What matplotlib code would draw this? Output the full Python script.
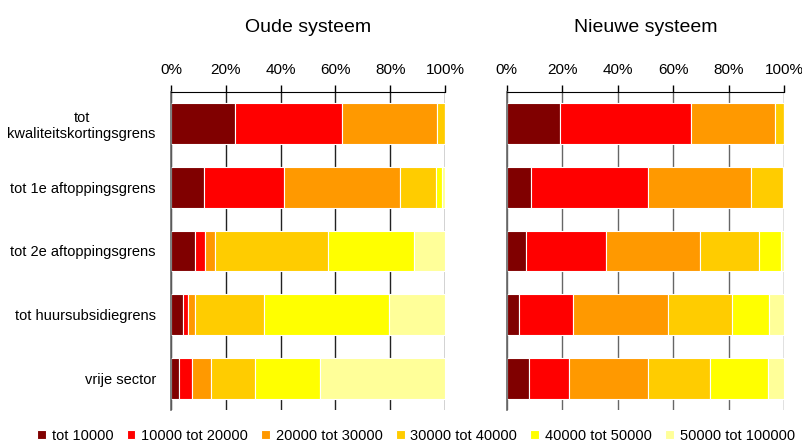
import matplotlib
matplotlib.use("Agg")
import matplotlib.pyplot as plt
import numpy as np

plt.rcParams["font.family"] = ["Liberation Sans", "DejaVu Sans"]

categories = ["tot\nkwaliteitskortingsgrens", "tot 1e aftoppingsgrens",
              "tot 2e aftoppingsgrens", "tot huursubsidiegrens", "vrije sector"]
series = ["tot 10000", "10000 tot 20000", "20000 tot 30000",
          "30000 tot 40000", "40000 tot 50000", "50000 tot 100000"]
colors = ["#800000", "#FF0000", "#FF9900", "#FFCC00", "#FFFF00", "#FFFF99"]

# share (%) per income class, rows follow categories
oud = [
    [23.2, 39.1, 34.7, 3.0, 0.0, 0.0],
    [11.9, 29.4, 42.2, 13.1, 2.3, 1.1],
    [8.7, 3.6, 3.7, 41.2, 31.6, 11.2],
    [4.5, 1.7, 2.5, 25.3, 45.5, 20.5],
    [3.0, 4.7, 6.9, 15.9, 23.7, 45.8],
]
nieuw = [
    [19.3, 47.0, 30.5, 3.2, 0.0, 0.0],
    [8.6, 42.3, 37.2, 11.3, 0.4, 0.2],
    [7.1, 28.6, 34.0, 21.1, 8.1, 1.1],
    [4.4, 19.5, 34.2, 22.9, 13.4, 5.6],
    [8.0, 14.4, 28.5, 22.4, 20.8, 5.9],
]
titles = ["Oude systeem", "Nieuwe systeem"]
ticks = [0, 20, 40, 60, 80, 100]
tick_labels = ["0%", "20%", "40%", "60%", "80%", "100%"]

fig = plt.figure(figsize=(8.03, 4.47), dpi=100)
ax1 = fig.add_axes([0.2130, 0.0828, 0.3412, 0.7115])
ax2 = fig.add_axes([0.6310, 0.0828, 0.3457, 0.7115])


def draw(ax, data, title, gridcolor, show_labels):
    data = np.array(data)
    y = np.arange(len(categories))
    left = np.zeros(len(categories))
    for j, name in enumerate(series):
        vals = data[:, j]
        ax.barh(y, vals, left=left, height=0.64, color=colors[j],
                edgecolor="white", linewidth=0.8, label=name, zorder=2)
        left += vals
    ax.set_xlim(0, 100)
    ax.set_ylim(len(categories) - 0.5, -0.5)
    ax.xaxis.tick_top()
    ax.set_xticks(ticks)
    ax.set_xticklabels(tick_labels, fontsize=11)
    ax.tick_params(axis="x", direction="out", length=5, width=1, color="black",
                   pad=6)
    ax.grid(axis="x", color=gridcolor, linewidth=1, zorder=0)
    ax.set_axisbelow(True)
    for s in ["right", "bottom"]:
        ax.spines[s].set_visible(False)
    ax.spines["top"].set_color("black")
    ax.spines["left"].set_color("#666666")
    ax.spines["left"].set_linewidth(1.2)
    ax.set_yticks(y)
    if show_labels:
        ax.set_yticklabels(categories, fontsize=10.5, multialignment="center")
        ax.tick_params(axis="y", length=0, pad=11)
    else:
        ax.set_yticklabels([])
        ax.tick_params(axis="y", length=0)
    ax.set_title(title, fontsize=14, pad=43, fontweight="medium")


draw(ax1, oud, titles[0], "#222222", True)
draw(ax2, nieuw, titles[1], "#666666", False)

handles, labels = ax1.get_legend_handles_labels()
fig.legend(handles, labels, loc="lower center", ncol=6, frameon=False,
           bbox_to_anchor=(0.518, -0.02), fontsize=10.5, handlelength=0.6,
           handleheight=0.6, handletextpad=0.4, columnspacing=0.9)

fig.savefig("out.png", dpi=100)
